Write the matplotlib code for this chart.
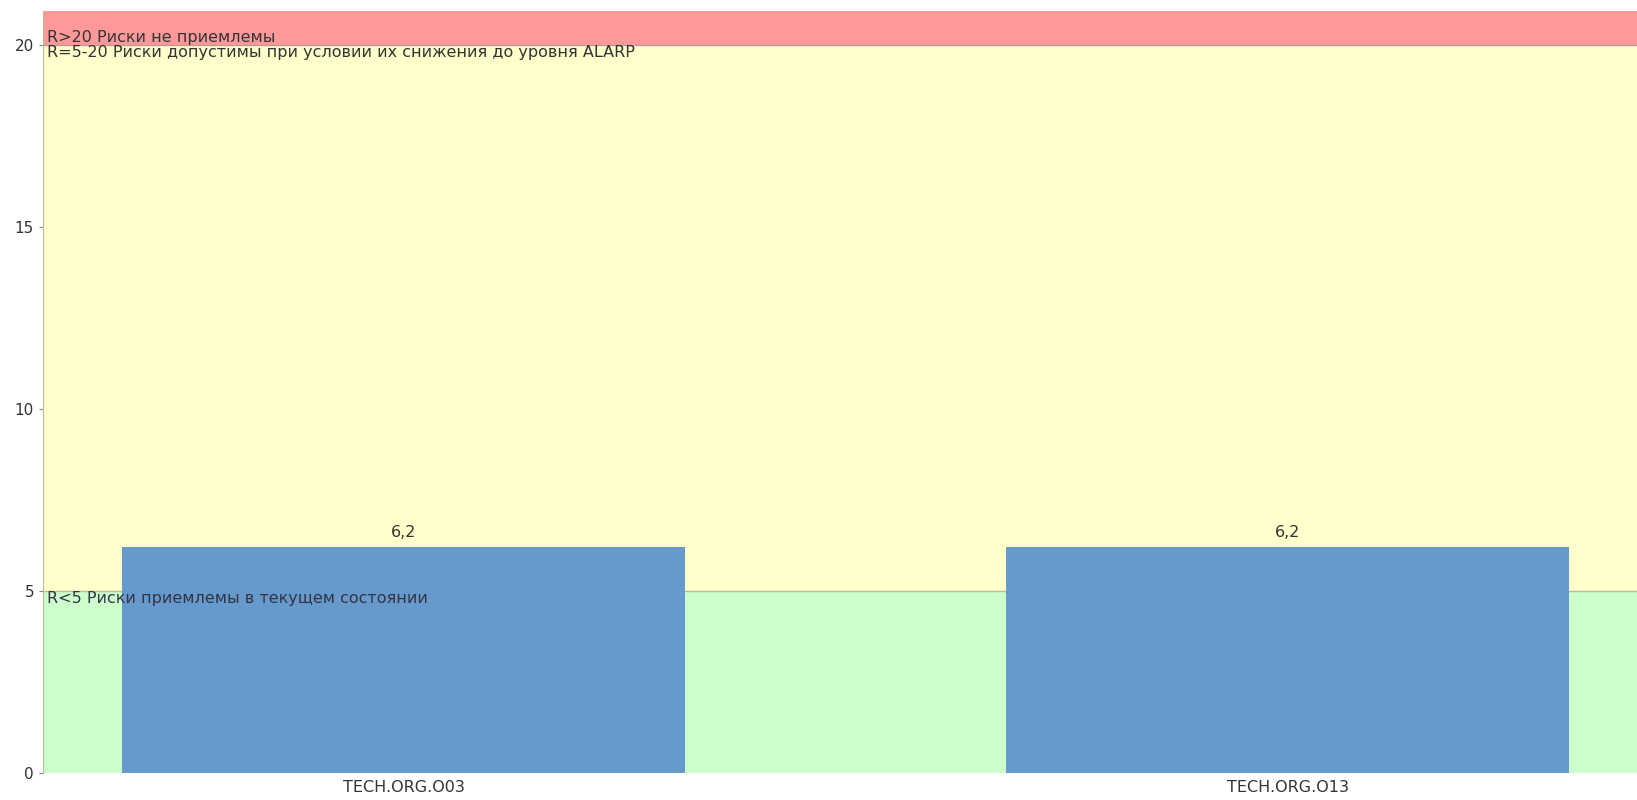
import matplotlib.pyplot as plt

# data
categories = ["TECH.ORG.O03", "TECH.ORG.O13"]
values = [6.2, 6.2]
value_labels = ["6,2", "6,2"]

# risk zones: (low, high, colour, label)
zone_bounds = [0, 5, 20, 20.93]
zone_colors = ["#CCFFCC", "#FFFFCC", "#FF9999"]
zone_labels = ["R<5 Риски приемлемы в текущем состоянии",
               "R=5-20 Риски допустимы при условии их снижения до уровня ALARP",
               "R>20 Риски не приемлемы"]

plt.rcParams['font.family'] = ['DejaVu Sans']

fig = plt.figure(figsize=(16.37, 8), dpi=100)
ax = fig.add_axes([0.0263, 0.034, 0.9737, 0.952])

for i in range(3):
    ax.axhspan(zone_bounds[i], zone_bounds[i+1], color=zone_colors[i], zorder=0, lw=0)
ax.axhline(5, color="#BBBB99", lw=1, zorder=1)
ax.axhline(20, color="#BB9999", lw=1, zorder=1)

x = range(len(categories))
ax.bar(x, values, width=0.637, color="#6699CC", zorder=2)
for xi, v, lab in zip(x, values, value_labels):
    ax.text(xi, v + 0.2, lab, ha='center', va='bottom', fontsize=11.5, color="#333333")

# zone labels
ax.text(-0.403, 5, zone_labels[0], va='top', ha='left', fontsize=11.5, color="#333344", zorder=3)
ax.text(-0.403, 20, zone_labels[1], va='top', ha='left', fontsize=11.5, color="#333333", zorder=3)
ax.text(-0.403, 20, zone_labels[2], va='bottom', ha='left', fontsize=11.5, color="#333333", zorder=3)

ax.set_xlim(-0.408, 1.395)
ax.set_ylim(0, 20.93)
ax.set_yticks([0, 5, 10, 15, 20])
ax.set_xticks(list(x))
ax.set_xticklabels(categories)
ax.tick_params(axis='both', labelsize=11, colors="#333333", length=3)
ax.tick_params(axis='x', length=0, pad=5, labelsize=11.5)
ax.tick_params(axis='y', color="#888888")

for s in ['top', 'right', 'bottom']:
    ax.spines[s].set_visible(False)
ax.spines['left'].set_color("#BBBB99")
ax.axhline(0, color="#888888", lw=0.8, ls=(0, (2, 2)), zorder=3)

fig.savefig("out.png", dpi=100)
